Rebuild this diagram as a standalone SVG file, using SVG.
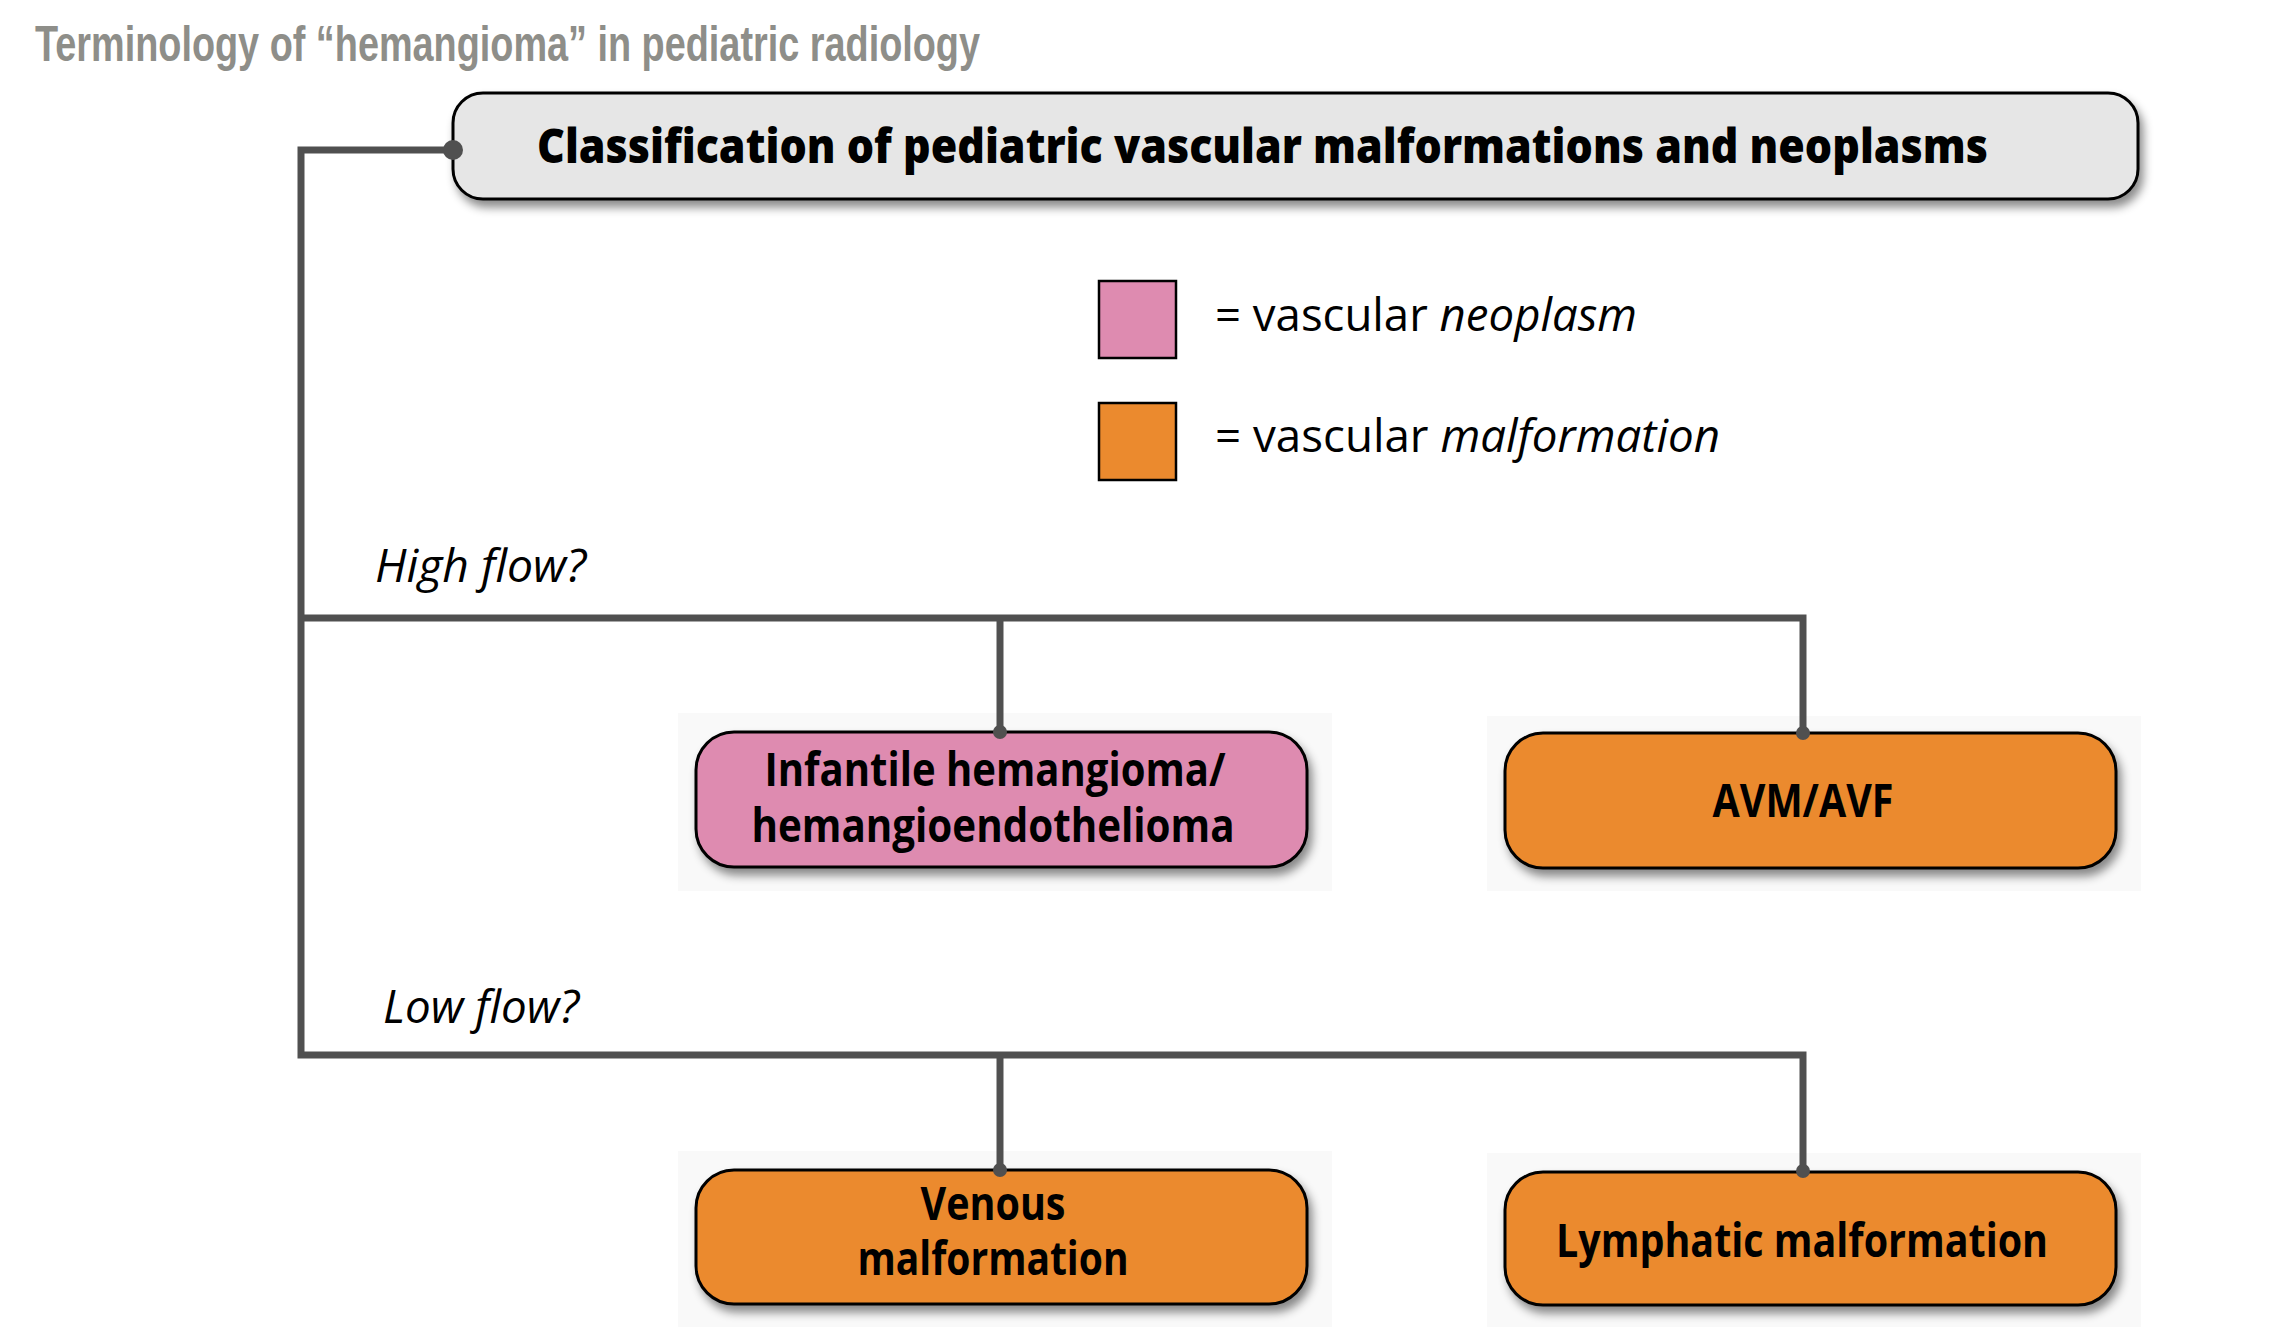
<svg xmlns="http://www.w3.org/2000/svg" width="2282" height="1344" viewBox="0 0 2282 1344">
  <defs>
    <filter id="shadow" x="-10%" y="-30%" width="125%" height="170%">
      <feDropShadow dx="4" dy="7" stdDeviation="5" flood-color="#000" flood-opacity="0.45"/>
    </filter>
    <style>
      .title { font-family: "Liberation Sans", Arial, sans-serif; font-weight: bold; font-size: 50px; fill: #8e8e89; }
      .head { font-family: "Open Sans", "Noto Sans", sans-serif; font-weight: 800; font-size: 48px; fill: #000; }
      .node { stroke: #000; stroke-width: 3; filter: url(#shadow); }
      .neo { fill: #de8bb0; }
      .mal { fill: #eb8a2e; }
      .plate { fill: #f9f9f9; }
      .lbl { font-family: "Open Sans", "Noto Sans", sans-serif; font-weight: bold; font-size: 46px; fill: #000; text-anchor: middle; }
      .legend { font-family: "Open Sans", "Noto Sans", sans-serif; font-size: 46px; fill: #000; }
      .q { font-family: "Open Sans", "Noto Sans", sans-serif; font-style: italic; font-size: 45px; fill: #000; }
      .wire { fill: none; stroke: #505050; stroke-width: 7; }
      .dot { fill: #505050; }
    </style>
  </defs>

  <rect width="2282" height="1344" fill="#fff"/>

  <text class="title" x="35" y="61" textLength="945" lengthAdjust="spacingAndGlyphs">Terminology of “hemangioma” in pediatric radiology</text>

  <!-- root heading -->
  <g id="root">
    <rect class="node" x="453" y="93" width="1685" height="106" rx="30" fill="#e6e6e6"/>
    <text class="head" x="537" y="163" textLength="1451" lengthAdjust="spacingAndGlyphs">Classification of pediatric vascular malformations and neoplasms</text>
  </g>

  <!-- legend -->
  <g id="legend">
    <rect x="1099" y="281" width="77" height="77" fill="#de8bb0" stroke="#000" stroke-width="2.5"/>
    <text class="legend" x="1215" y="331" textLength="422" lengthAdjust="spacingAndGlyphs">= vascular <tspan font-style="italic">neoplasm</tspan></text>
    <rect x="1099" y="403" width="77" height="77" fill="#eb8a2e" stroke="#000" stroke-width="2.5"/>
    <text class="legend" x="1215" y="452" textLength="505" lengthAdjust="spacingAndGlyphs">= vascular <tspan font-style="italic">malformation</tspan></text>
  </g>

  <!-- high-flow lesions -->
  <g id="infantile">
    <rect class="plate" x="678" y="713" width="654" height="178"/>
    <rect class="node neo" x="696" y="732" width="611" height="135" rx="38"/>
    <text class="lbl" x="995" y="786" textLength="461" lengthAdjust="spacingAndGlyphs">Infantile hemangioma/</text>
    <text class="lbl" x="993" y="842" textLength="483" lengthAdjust="spacingAndGlyphs">hemangioendothelioma</text>
  </g>
  <g id="avm">
    <rect class="plate" x="1487" y="716" width="654" height="175"/>
    <rect class="node mal" x="1505" y="733" width="611" height="135" rx="38"/>
    <text class="lbl" x="1803" y="817" textLength="181" lengthAdjust="spacingAndGlyphs">AVM/AVF</text>
  </g>

  <!-- low-flow lesions -->
  <g id="venous">
    <rect class="plate" x="678" y="1151" width="654" height="176"/>
    <rect class="node mal" x="696" y="1170" width="611" height="134" rx="38"/>
    <text class="lbl" x="993" y="1220" textLength="145" lengthAdjust="spacingAndGlyphs">Venous</text>
    <text class="lbl" x="993" y="1275" textLength="271" lengthAdjust="spacingAndGlyphs">malformation</text>
  </g>
  <g id="lymphatic">
    <rect class="plate" x="1487" y="1153" width="654" height="174"/>
    <rect class="node mal" x="1505" y="1172" width="611" height="133" rx="38"/>
    <text class="lbl" x="1802" y="1257" textLength="492" lengthAdjust="spacingAndGlyphs">Lymphatic malformation</text>
  </g>

  <!-- connectors, drawn over the node plates -->
  <g id="connectors">
    <path class="wire" d="M453 150 H301 V1055 H1803 V1170"/>
    <path class="wire" d="M301 618 H1803 V733"/>
    <path class="wire" d="M1000 618 V732"/>
    <path class="wire" d="M1000 1055 V1170"/>
    <circle class="dot" cx="453" cy="150" r="10"/>
    <circle class="dot" cx="1000" cy="732" r="7"/>
    <circle class="dot" cx="1803" cy="733" r="7"/>
    <circle class="dot" cx="1000" cy="1170" r="7"/>
    <circle class="dot" cx="1803" cy="1171" r="7"/>
    <text class="q" x="375" y="582" textLength="211" lengthAdjust="spacingAndGlyphs">High flow?</text>
    <text class="q" x="383" y="1023" textLength="196" lengthAdjust="spacingAndGlyphs">Low flow?</text>
  </g>
</svg>
